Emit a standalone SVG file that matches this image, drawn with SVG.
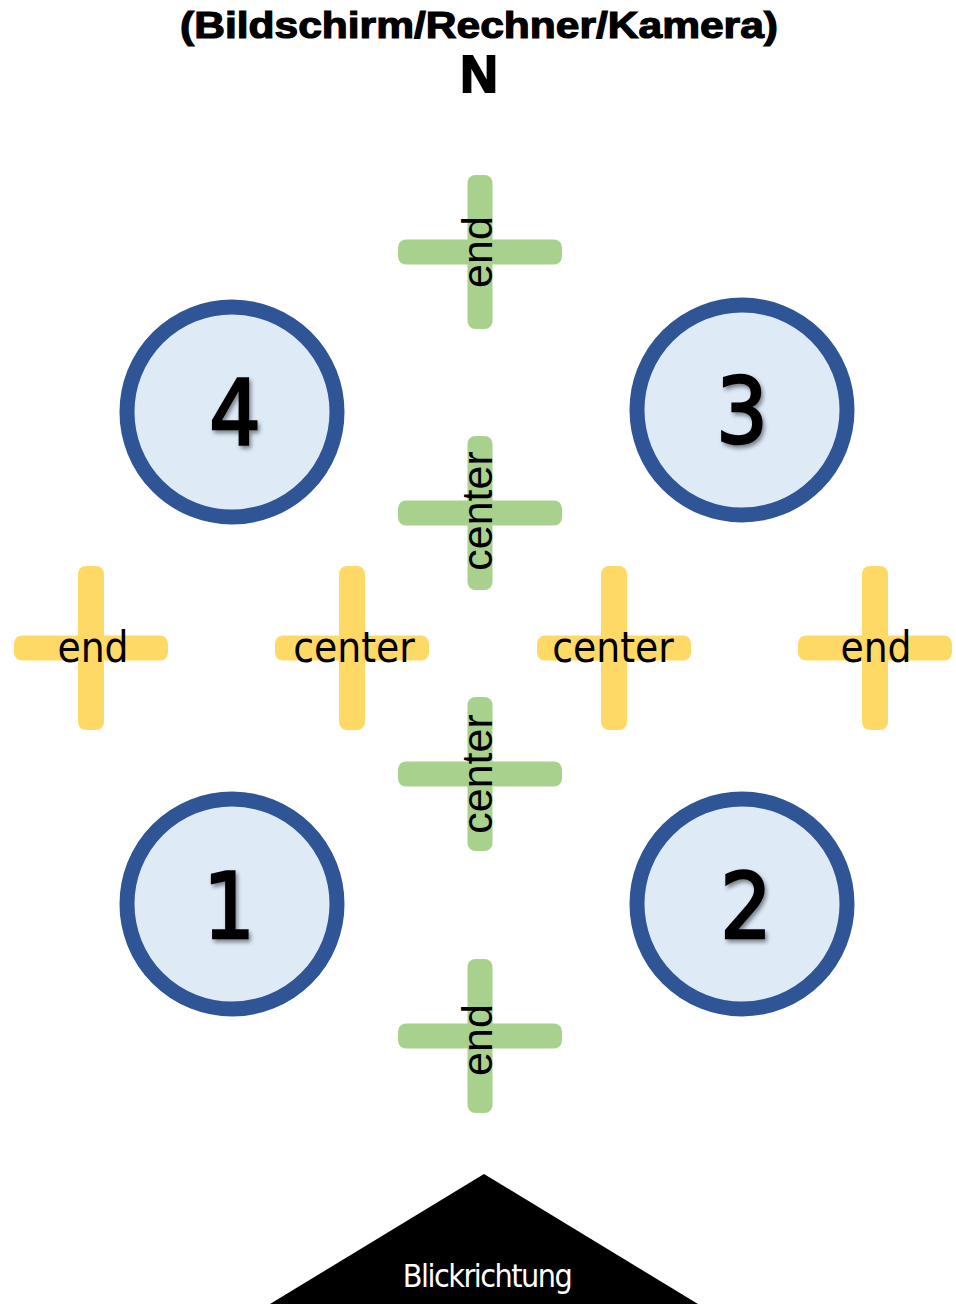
<svg xmlns="http://www.w3.org/2000/svg" width="956" height="1304" viewBox="0 0 956 1304">
<style>
.g{fill:#a9d18e}
.y{fill:#ffd966}
.lbl{font-family:"DejaVu Sans Condensed","DejaVu Sans",sans-serif;font-size:42px;fill:#000;text-anchor:middle}
.vl{font-family:"Liberation Sans",Arial,sans-serif;font-size:43px;fill:#000;text-anchor:middle}
.circ{fill:#deebf7;stroke:#2f5597;stroke-width:15}
.num{font-family:"DejaVu Sans Condensed","DejaVu Sans",sans-serif;font-size:90px;fill:#000;stroke:#000;stroke-width:2.5;text-anchor:middle;filter:url(#sh)}
</style>
<defs>
<filter id="sh" x="-20%" y="-20%" width="160%" height="160%">
<feDropShadow dx="2" dy="3" stdDeviation="2" flood-color="#000" flood-opacity="0.45"/>
</filter>
<g id="gcross">
<rect class="g" x="-12.5" y="-77" width="25" height="154" rx="8"/>
<rect class="g" x="-82" y="-12.5" width="164" height="25" rx="8"/>
</g>
<g id="ycross">
<rect class="y" x="-13" y="-82" width="26" height="164" rx="8"/>
<rect class="y" x="-77" y="-12.5" width="154" height="25" rx="8"/>
</g>
</defs>
<rect width="956" height="1304" fill="#fff"/>
<g id="title">
<text x="479" y="38" font-family="Liberation Sans, Arial, sans-serif" font-weight="bold" font-size="37" text-anchor="middle" textLength="598" lengthAdjust="spacingAndGlyphs" stroke="#000" stroke-width="1.2">(Bildschirm/Rechner/Kamera)</text>
<text x="479" y="92" font-family="Liberation Sans, Arial, sans-serif" font-weight="bold" font-size="52" text-anchor="middle" stroke="#000" stroke-width="2">N</text>
</g>
<g id="green-end-top">
<use href="#gcross" x="480" y="252"/>
<text class="vl" transform="translate(492,252) rotate(-90)">end</text>
</g>
<g id="green-center-top">
<use href="#gcross" x="480" y="513"/>
<text class="vl" transform="translate(492,511) rotate(-90)">center</text>
</g>
<g id="green-center-bottom">
<use href="#gcross" x="480" y="774"/>
<text class="vl" transform="translate(492,774) rotate(-90)">center</text>
</g>
<g id="green-end-bottom">
<use href="#gcross" x="480" y="1036"/>
<text class="vl" transform="translate(492,1040) rotate(-90)">end</text>
</g>
<g id="yellow-end-left">
<use href="#ycross" x="91" y="648"/>
<text class="lbl" x="93" y="662">end</text>
</g>
<g id="yellow-center-left">
<use href="#ycross" x="352" y="648"/>
<text class="lbl" x="354" y="662">center</text>
</g>
<g id="yellow-center-right">
<use href="#ycross" x="614" y="648"/>
<text class="lbl" x="613" y="662">center</text>
</g>
<g id="yellow-end-right">
<use href="#ycross" x="875" y="648"/>
<text class="lbl" x="876" y="662">end</text>
</g>
<g id="node4">
<circle class="circ" cx="232" cy="412" r="105"/>
<text class="num" x="235" y="445">4</text>
</g>
<g id="node3">
<circle class="circ" cx="742" cy="410" r="105"/>
<text class="num" x="742" y="443">3</text>
</g>
<g id="node1">
<circle class="circ" cx="232" cy="904" r="105"/>
<text class="num" x="229" y="938">1</text>
</g>
<g id="node2">
<circle class="circ" cx="742" cy="904" r="105"/>
<text class="num" x="746" y="938">2</text>
</g>
<g id="view">
<polygon points="484,1174 698,1304 270,1304" fill="#000"/>
<text x="487" y="1287" font-family="DejaVu Sans Condensed, DejaVu Sans, sans-serif" font-size="32" fill="#fff" text-anchor="middle" letter-spacing="-1.5">Blickrichtung</text>
</g>
</svg>
